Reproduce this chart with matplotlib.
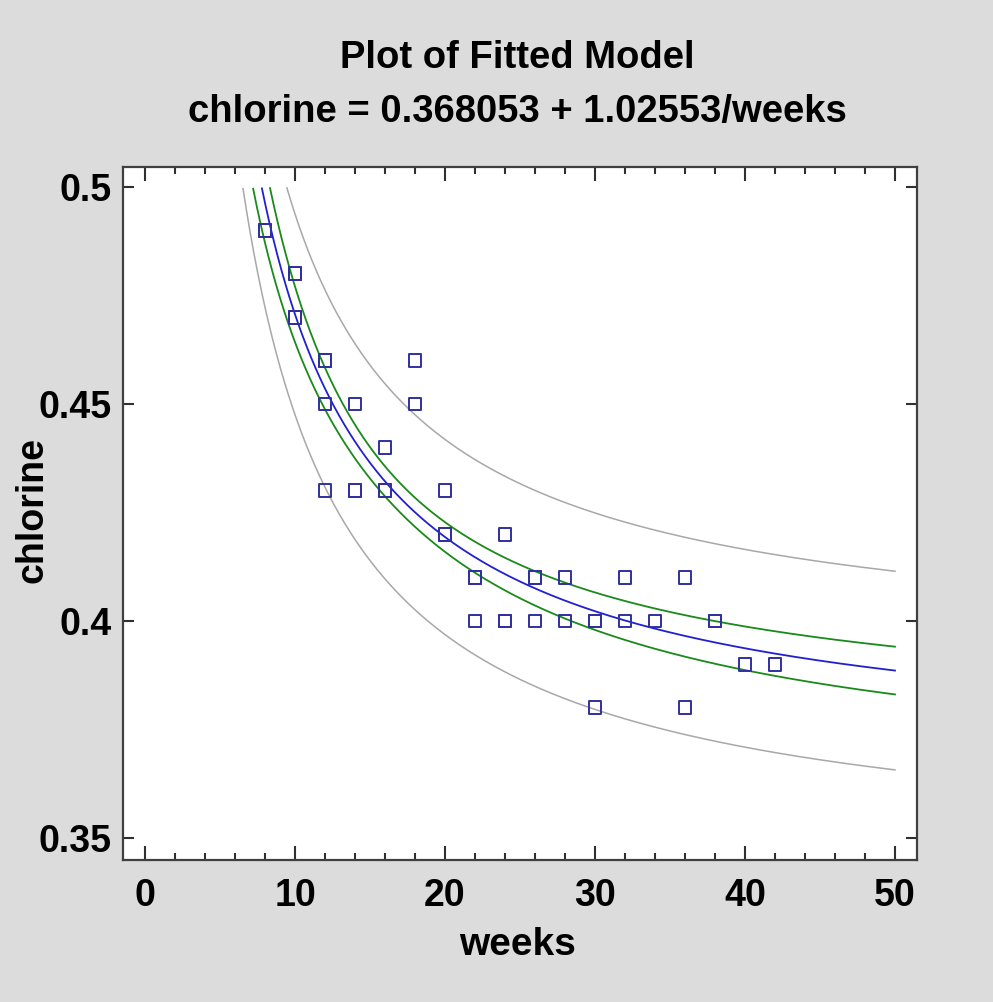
import matplotlib
matplotlib.use("Agg")
import matplotlib.pyplot as plt
import numpy as np
from matplotlib.ticker import MultipleLocator

# chlorine data (weeks vs chlorine)
weeks = [8, 8, 10, 10, 10, 10, 12, 12, 12, 12, 14, 14, 14, 16, 16, 16, 18, 18,
         20, 20, 20, 22, 22, 22, 24, 24, 24, 26, 26, 26, 28, 28, 30, 30, 30,
         32, 32, 34, 36, 36, 38, 38, 40, 42]
chlorine = [0.49, 0.49, 0.48, 0.47, 0.48, 0.47, 0.46, 0.46, 0.45, 0.43, 0.45,
            0.43, 0.43, 0.44, 0.43, 0.43, 0.46, 0.45, 0.42, 0.42, 0.43, 0.41,
            0.41, 0.40, 0.42, 0.40, 0.40, 0.41, 0.40, 0.41, 0.41, 0.40, 0.40,
            0.40, 0.38, 0.41, 0.40, 0.40, 0.41, 0.38, 0.40, 0.40, 0.39, 0.39]
t95 = 2.018  # t(0.975, 42)

plt.rcParams['font.family'] = ['Liberation Sans', 'DejaVu Sans']
plt.rcParams['font.weight'] = 'bold'

x = np.array(weeks, float)
y = np.array(chlorine)
u = 1.0 / x
b, a = np.polyfit(u, y, 1)
n = len(x)
resid = y - (a + b * u)
s = np.sqrt(np.sum(resid ** 2) / (n - 2))
ubar = u.mean()
sxx = np.sum((u - ubar) ** 2)

xs = np.linspace(5, 50, 2000)
us = 1.0 / xs
fit = a + b * us
se_mean = s * np.sqrt(1.0 / n + (us - ubar) ** 2 / sxx)
se_pred = s * np.sqrt(1 + 1.0 / n + (us - ubar) ** 2 / sxx)

def clip(v):
    v = v.copy()
    v[v > 0.5] = np.nan
    return v

fig = plt.figure(figsize=(9.93, 10.02), dpi=100, facecolor='#dcdcdc')
ax = fig.add_axes([0.1239, 0.1417, 0.7996, 0.6916])
ax.set_facecolor('white')

ax.plot(xs, clip(fit + t95 * se_pred), color='#a8a8a8', lw=1.1)
ax.plot(xs, clip(fit - t95 * se_pred), color='#a8a8a8', lw=1.1)
ax.plot(xs, clip(fit + t95 * se_mean), color='#1a8a1a', lw=1.3)
ax.plot(xs, clip(fit - t95 * se_mean), color='#1a8a1a', lw=1.3)
ax.plot(xs, clip(fit), color='#2020d0', lw=1.3)
ax.scatter(weeks, chlorine, marker='s', s=85, facecolors='none',
           edgecolors='#3030a0', linewidths=1.4, zorder=5)

ax.set_xlim(-1.47, 51.47)
ax.set_ylim(0.3449, 0.5046)
ax.xaxis.set_major_locator(MultipleLocator(10))
ax.xaxis.set_minor_locator(MultipleLocator(2))
ax.set_yticks([0.35, 0.4, 0.45, 0.5])
ax.set_yticklabels(['0.35', '0.4', '0.45', '0.5'])
ax.tick_params(axis='both', which='both', direction='in', top=True, right=True,
               color='#303030', width=1.5)
ax.tick_params(axis='x', which='major', length=10, labelsize=27, pad=13)
ax.tick_params(axis='x', which='minor', length=5)
ax.tick_params(axis='y', which='major', length=8, labelsize=27, pad=8)
for sp in ax.spines.values():
    sp.set_color('#404040')
    sp.set_linewidth(1.6)

fig.text(0.521, 1 - 955 / 1002, 'weeks', ha='center', va='baseline',
         fontsize=28, fontweight='bold')
fig.text(42 / 993, 1 - 510 / 1002, 'chlorine', ha='center', va='baseline',
         rotation=90, rotation_mode='anchor', fontsize=27, fontweight='bold')

fig.text(0.521, 1 - 68 / 1002, 'Plot of Fitted Model', ha='center',
         va='baseline', fontsize=27.5, fontweight='bold')
fig.text(0.521, 1 - 122 / 1002, 'chlorine = 0.368053 + 1.02553/weeks',
         ha='center', va='baseline', fontsize=27.5, fontweight='bold')

fig.savefig('out.png', dpi=100, facecolor=fig.get_facecolor())
